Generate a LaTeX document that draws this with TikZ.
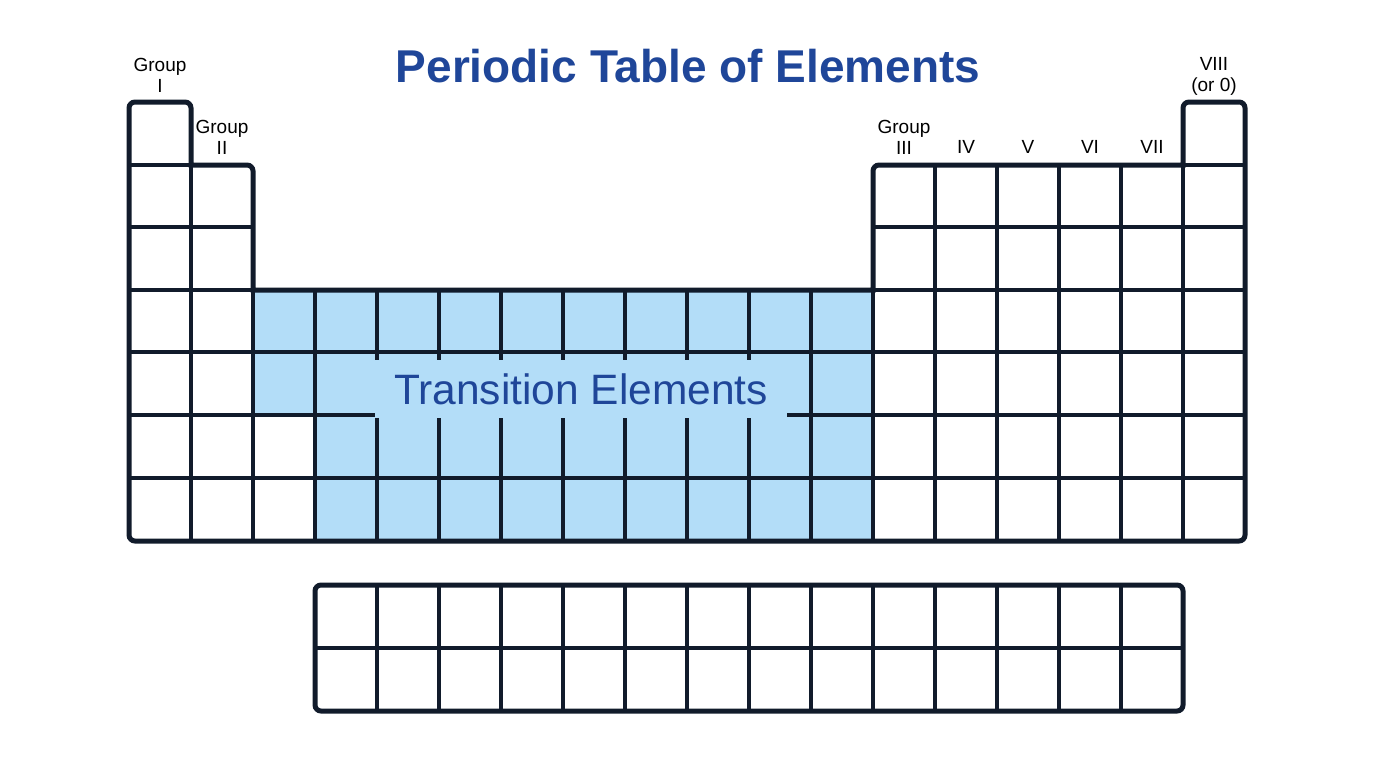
\documentclass[tikz,border=0pt]{standalone}
\usepackage{fontspec}
\setmainfont{Liberation Sans}
\usepackage{tikz}
\usetikzlibrary{positioning}

\definecolor{gridline}{HTML}{111B2B}
\definecolor{transfill}{HTML}{B3DDF8}
\definecolor{titleblue}{HTML}{1F4699}

\tikzset{
  outline/.style={draw=gridline, line width=5pt, rounded corners=6pt},
  cellline/.style={draw=gridline, line width=3.5pt},
  grouplabel/.style={align=center, inner sep=0pt, font=\fontsize{19}{21}\selectfont, text=black}
}

\begin{document}
\begin{tikzpicture}[x=1pt,y=-1pt]
  \useasboundingbox (0,0) rectangle (1376,768);
  % title
  \node (title) at (688,66) {\fontsize{46}{52}\selectfont\bfseries\color{titleblue}Periodic Table of Elements};
  % transition block fill
  \fill[transfill] (253,290) rectangle (873,415);
  \fill[transfill] (315,415) rectangle (873,541);
  % inner horizontal lines
  \draw[cellline] (129,165) -- (191,165);
  \draw[cellline] (1183,165) -- (1245,165);
  \draw[cellline] (129,227) -- (253,227);
  \draw[cellline] (873,227) -- (1245,227);
  \draw[cellline] (129,290) -- (253,290);
  \draw[cellline] (873,290) -- (1245,290);
  \foreach \y in {352,415,478}
    \draw[cellline] (129,\y) -- (1245,\y);
  % inner vertical lines
  \draw[cellline] (191,165) -- (191,541);
  \foreach \x in {253,315,...,873}
    \draw[cellline] (\x,290) -- (\x,541);
  \foreach \x in {935,997,...,1183}
    \draw[cellline] (\x,165) -- (\x,541);
  % transition label
  \node[fill=transfill, minimum width=412pt, minimum height=58pt, inner sep=0pt] (trans) at (581,389)
    {\fontsize{42.5}{48}\selectfont\color{titleblue}Transition Elements};
  % main outline
  \draw[outline] (129,541) -- (129,102) -- (191,102) [sharp corners] -- (191,165)
    [rounded corners=6pt] -- (253,165) [sharp corners] -- (253,290) -- (873,290)
    [rounded corners=6pt] -- (873,165) [sharp corners] -- (1183,165)
    [rounded corners=6pt] -- (1183,102) -- (1245,102) -- (1245,541) -- cycle;
  % lanthanide block
  \draw[cellline] (315,648) -- (1183,648);
  \foreach \x in {377,439,...,1121}
    \draw[cellline] (\x,585) -- (\x,711);
  \draw[outline] (315,585) rectangle (1183,711);
  % group labels
  \node[grouplabel] (g1) at (160,75) {Group\\I};
  \node[grouplabel] (g2) at (222,137) {Group\\II};
  \node[grouplabel] (g3) at (904,137) {Group\\III};
  \node[grouplabel] (g4) at (966,147) {IV};
  \node[grouplabel] (g5) at (1028,147) {V};
  \node[grouplabel] (g6) at (1090,147) {VI};
  \node[grouplabel] (g7) at (1152,147) {VII};
  \node[grouplabel] (g8) at (1214,76) {VIII\\(or 0)};
\end{tikzpicture}
\end{document}
